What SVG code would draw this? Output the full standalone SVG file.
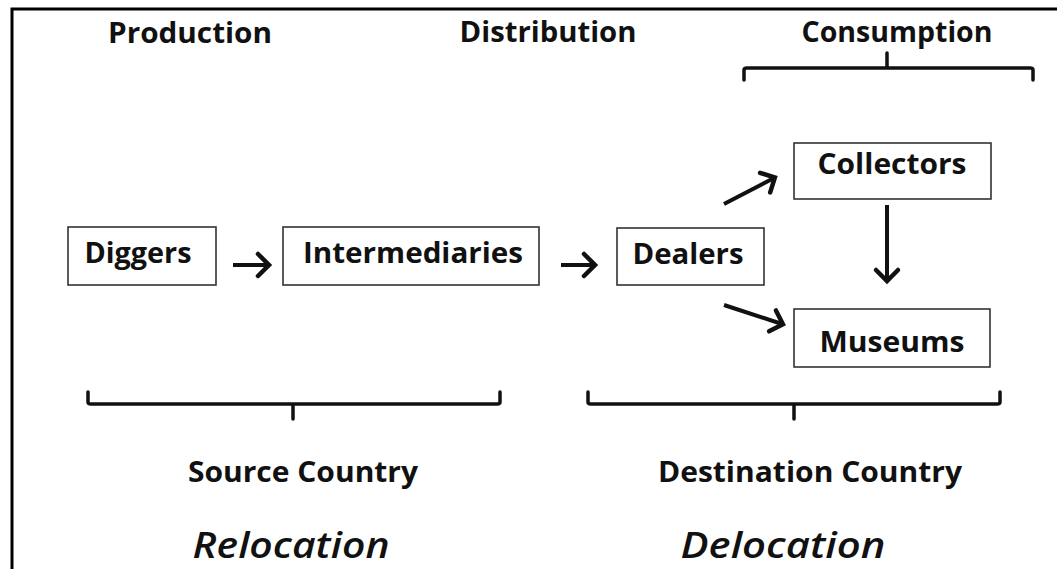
<svg xmlns="http://www.w3.org/2000/svg" width="1057" height="569" viewBox="0 0 1057 569">
<defs>
<style>
.t{font-family:"Open Sans","Liberation Sans",sans-serif;font-weight:bold;fill:#111;text-anchor:middle}
.h{font-size:29px}
.n{font-size:28px}
.c{font-size:28px}
.i{font-family:"Open Sans","Liberation Sans",sans-serif;font-style:italic;font-weight:600;font-size:36px;fill:#111;text-anchor:middle}
.box{fill:#fff;stroke:#333;stroke-width:1.6}
.br{fill:none;stroke:#111;stroke-width:3.5;stroke-linecap:round;stroke-linejoin:round}
.ar{fill:none;stroke:#111;stroke-width:4;marker-end:url(#ah)}
</style>
<marker id="ah" markerWidth="10" markerHeight="10" refX="6" refY="5" orient="auto" markerUnits="userSpaceOnUse" viewBox="0 0 10 10" overflow="visible">
<path d="M-4,-6 L7,5 L-4,16" fill="none" stroke="#111" stroke-width="4.5" stroke-linecap="round" stroke-linejoin="miter"/>
</marker>
</defs>
<rect width="1057" height="569" fill="#fff"/>
<path d="M12,569 L12,9 L1057,9" fill="none" stroke="#000" stroke-width="3"/>
<g id="headers">
<text class="t h" x="190" y="43" textLength="164" lengthAdjust="spacingAndGlyphs">Production</text>
<text class="t h" x="548" y="42" textLength="177" lengthAdjust="spacingAndGlyphs">Distribution</text>
<text class="t h" x="897" y="42" textLength="191" lengthAdjust="spacingAndGlyphs">Consumption</text>
</g>
<g id="brackets">
<path class="br" d="M744,80 L744,70 Q744,68 747,68 L1030,68 Q1033,68 1033,70 L1033,80 M887,53 L887,68"/>
<path class="br" d="M88,392 L88,402 Q88,404 91,404 L497,404 Q500,404 500,402 L500,392 M293,404 L293,419"/>
<path class="br" d="M588,392 L588,402 Q588,404 591,404 L997,404 Q1000,404 1000,402 L1000,392 M794,404 L794,419"/>
</g>
<g id="diggers">
<rect class="box" x="68" y="227" width="148" height="58"/>
<text class="t n" x="138" y="263" textLength="107" lengthAdjust="spacingAndGlyphs">Diggers</text>
</g>
<g id="intermediaries">
<rect class="box" x="283" y="227" width="256" height="58"/>
<text class="t n" x="413" y="263" textLength="220" lengthAdjust="spacingAndGlyphs">Intermediaries</text>
</g>
<g id="dealers">
<rect class="box" x="617" y="228" width="147" height="57"/>
<text class="t n" x="688" y="264" textLength="111" lengthAdjust="spacingAndGlyphs">Dealers</text>
</g>
<g id="collectors">
<rect class="box" x="794" y="143" width="197" height="56"/>
<text class="t n" x="892" y="174" textLength="149" lengthAdjust="spacingAndGlyphs">Collectors</text>
</g>
<g id="museums">
<rect class="box" x="794" y="309" width="196" height="58"/>
<text class="t n" x="892" y="352" textLength="145" lengthAdjust="spacingAndGlyphs">Museums</text>
</g>
<g id="connectors">
<line class="ar" x1="233" y1="265" x2="268" y2="265"/>
<line class="ar" x1="561" y1="265" x2="594" y2="265"/>
<line class="ar" x1="724" y1="204" x2="774" y2="178"/>
<line class="ar" x1="724" y1="305" x2="782" y2="324"/>
<line class="ar" x1="887" y1="205" x2="887" y2="280"/>
</g>
<g id="labels">
<text class="t c" x="303" y="482" textLength="230" lengthAdjust="spacingAndGlyphs">Source Country</text>
<text class="t c" x="810" y="482" textLength="304" lengthAdjust="spacingAndGlyphs">Destination Country</text>
<text class="i" x="291" y="558" textLength="197" lengthAdjust="spacingAndGlyphs">Relocation</text>
<text class="i" x="783" y="558" textLength="205" lengthAdjust="spacingAndGlyphs">Delocation</text>
</g>
</svg>
